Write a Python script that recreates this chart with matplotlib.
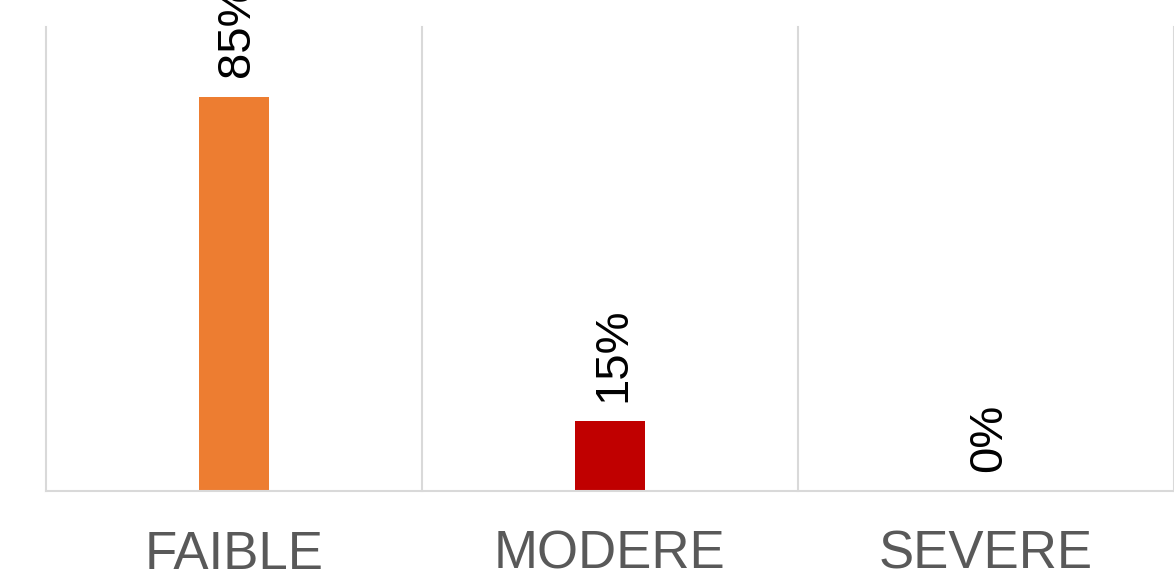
"""Bar chart of severity levels."""
import matplotlib
matplotlib.use("Agg")
import matplotlib.pyplot as plt

categories = ["FAIBLE", "MODERE", "SEVERE"]
values = [85, 15, 0]
bar_colors = ["#ED7D31", "#C00000", "#A5A5A5"]

plt.rcParams['font.family'] = ['Liberation Sans', 'DejaVu Sans']

W, H = 1174, 573
fig = plt.figure(figsize=(W / 100, H / 100), dpi=100)
ax = fig.add_axes([46 / W, (H - 491) / H, 1128 / W, 464 / H])

x = list(range(len(categories)))
ax.bar(x, values, width=0.186, color=bar_colors, zorder=2)

ax.set_xlim(-0.5, len(categories) - 0.5)
ax.set_ylim(0, 100)

# category separators
for b in [i - 0.5 for i in range(len(categories) + 1)]:
    ax.axvline(b, color="#D9D9D9", lw=1.5, zorder=1, clip_on=False)

for s in ["top", "right", "left"]:
    ax.spines[s].set_visible(False)
ax.spines["bottom"].set_color("#D9D9D9")
ax.spines["bottom"].set_linewidth(1.5)

ax.set_yticks([])
ax.set_xticks(x)
ax.set_xticklabels(categories, fontsize=38, color="#595959")
ax.tick_params(axis="x", length=0, pad=28)

# value labels
for xi, v in zip(x, values):
    ax.annotate("{}%".format(v), (xi, v), xytext=(2.5, 14),
                textcoords="offset points", rotation=90,
                ha="center", va="bottom", fontsize=34, color="black",
                annotation_clip=False)

fig.savefig("out.png", dpi=100, facecolor="white")
plt.close(fig)
